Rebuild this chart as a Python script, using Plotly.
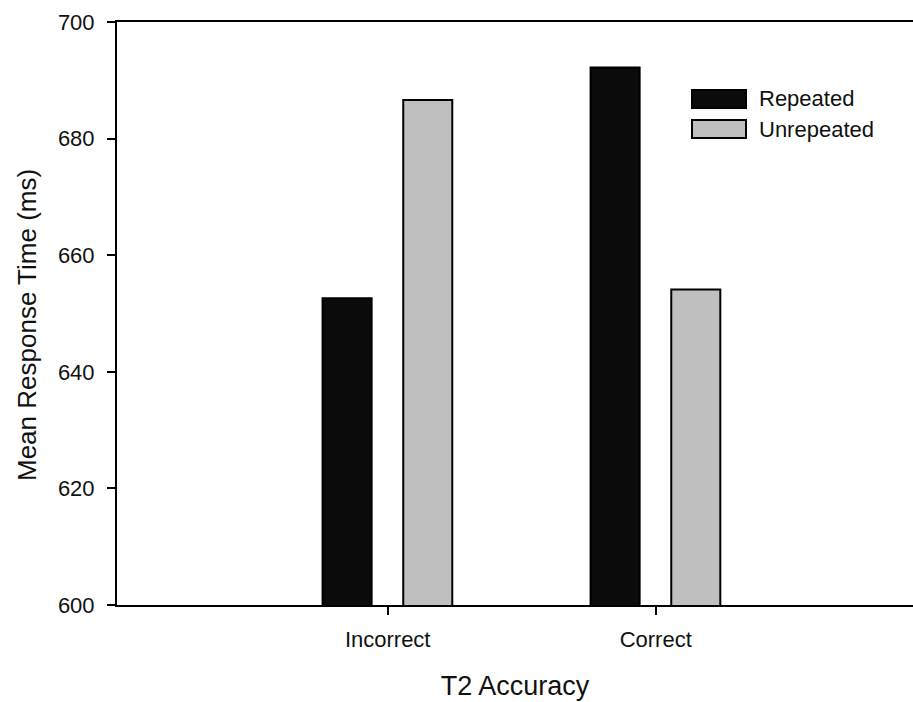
import plotly.graph_objects as go

# Mean response time by T2 accuracy and repetition condition
categories = ["Incorrect", "Correct"]
series_names = ["Repeated", "Unrepeated"]
repeated = [652.6, 692.2]
unrepeated = [686.6, 654.1]
y_ticks = [600, 620, 640, 660, 680, 700]

W, H = 913, 702
ML, MR, MT, MB = 117, 0, 22, 97
FONT = "Liberation Sans, Arial, sans-serif"
fills = ["#0b0b0b", "#bfbfbf"]

fig = go.Figure()
x_idx = list(range(len(categories)))
bar_w = 0.183
offsets = [-0.243, 0.058]
for name, vals, col, off in zip(series_names, [repeated, unrepeated], fills, offsets):
    fig.add_trace(go.Bar(
        x=x_idx, y=vals, name=name, width=bar_w, offset=off,
        marker=dict(color=col, line=dict(color="#000000", width=2)),
        showlegend=False,
    ))

# legend drawn as swatches + labels in paper coordinates
pw, ph = W - ML - MR, H - MT - MB
def px_x(x):
    return (x - ML) / pw
def px_y(y):
    return 1 - (y - MT) / ph

sw_x0, sw_x1 = 692, 746
rows = [(90, 108), (120, 138)]
shapes = []
annotations = []
for (y0, y1), name, col in zip(rows, series_names, fills):
    shapes.append(dict(type="rect", xref="paper", yref="paper",
                       x0=px_x(sw_x0), x1=px_x(sw_x1), y0=px_y(y1), y1=px_y(y0),
                       fillcolor=col, line=dict(color="#000000", width=2)))
    annotations.append(dict(xref="paper", yref="paper", x=px_x(757), y=px_y((y0 + y1) / 2),
                            text=name, showarrow=False, xanchor="left", yanchor="middle",
                            font=dict(family=FONT, size=22, color="#111111")))

# y-axis title
annotations.append(dict(xref="paper", yref="paper", x=px_x(27), y=px_y(325),
                        text="Mean Response Time (ms)", textangle=-90, showarrow=False,
                        xanchor="center", yanchor="middle",
                        font=dict(family=FONT, size=26, color="#111111")))

fig.update_layout(
    width=W, height=H,
    margin=dict(l=ML, r=MR, t=MT, b=MB, pad=0),
    paper_bgcolor="white", plot_bgcolor="white",
    font=dict(family=FONT, size=22, color="#111111"),
    shapes=shapes, annotations=annotations,
    showlegend=False,
)
fig.update_xaxes(
    range=[-1.01, 1.96], tickvals=x_idx, ticktext=categories,
    showline=True, linecolor="#000000", linewidth=2, mirror=True,
    ticks="outside", ticklen=8, tickwidth=2, tickcolor="#000000",
    showgrid=False, zeroline=False, ticklabelstandoff=6,
    tickfont=dict(size=22),
    title=dict(text="T2 Accuracy", font=dict(size=27), standoff=25),
)
fig.update_yaxes(
    range=[600, 700], tickvals=y_ticks,
    showline=True, linecolor="#000000", linewidth=2, mirror=False,
    ticks="outside", ticklen=8, tickwidth=2, tickcolor="#000000",
    showgrid=False, zeroline=False, ticklabelstandoff=8,
    tickfont=dict(size=22),
)

fig.write_html("out.html")
